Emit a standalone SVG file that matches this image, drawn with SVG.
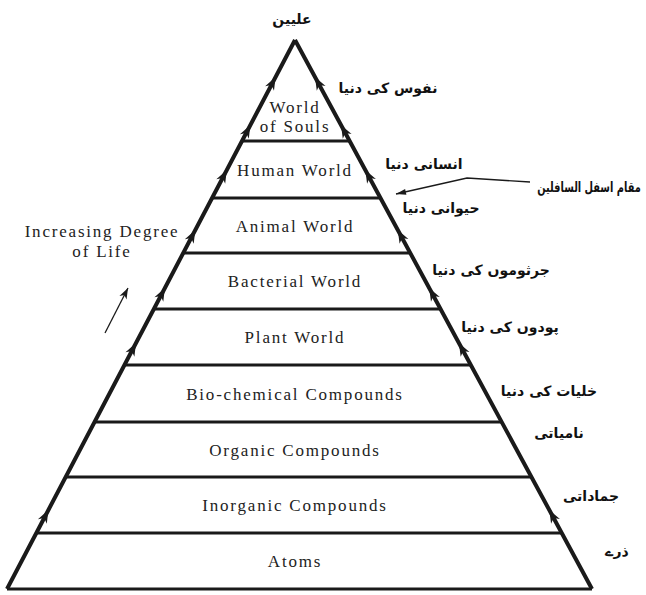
<svg xmlns="http://www.w3.org/2000/svg" width="646" height="595" viewBox="0 0 646 595">
<style>
.edge{fill:none;stroke:#1a1a1a;stroke-width:4;stroke-linejoin:miter;marker-mid:url(#ah)}
.tier{stroke:#1a1a1a;stroke-width:3}
.lbl{font-family:"Liberation Serif","Times New Roman",serif;font-size:17px;letter-spacing:1.8px;fill:#222;text-anchor:middle}
.ur{font-family:"DejaVu Sans",sans-serif;font-weight:bold;font-size:14px;fill:#111;text-anchor:middle}
.thin{fill:none;stroke:#1a1a1a;stroke-width:1.3}
</style>
<defs>
<marker id="ah" markerUnits="userSpaceOnUse" markerWidth="16" markerHeight="12" viewBox="-13 -6 14 12" refX="0" refY="0" orient="auto">
<path d="M0,0 L-13,-5 L-9,0 L-13,5 z" fill="#1a1a1a"/>
</marker>
<marker id="sa" markerUnits="userSpaceOnUse" markerWidth="12" markerHeight="10" viewBox="-11 -5 12 10" refX="0" refY="0" orient="auto">
<path d="M0,0 L-11,-4 L-8,0 L-11,4 z" fill="#1a1a1a"/>
</marker>
<marker id="pa" markerUnits="userSpaceOnUse" markerWidth="12" markerHeight="8" viewBox="-11 -4 12 8" refX="0" refY="0" orient="auto">
<path d="M0,0 L-10,-3 L-10,3 z" fill="#1a1a1a"/>
</marker>
</defs>

<g id="tiers">
<line class="tier" x1="242" y1="141" x2="349.6" y2="141"/>
<line class="tier" x1="212.1" y1="198" x2="380.5" y2="198" stroke-width="6"/>
<line class="tier" x1="183.3" y1="253" x2="410.2" y2="253"/>
<line class="tier" x1="153.9" y1="309" x2="440.5" y2="309"/>
<line class="tier" x1="124.5" y1="365" x2="470.8" y2="365"/>
<line class="tier" x1="94.6" y1="422" x2="501.7" y2="422"/>
<line class="tier" x1="65.7" y1="477" x2="531.4" y2="477"/>
<line class="tier" x1="36.4" y1="533" x2="561.7" y2="533"/>
<line class="tier" x1="7" y1="589" x2="592" y2="589" stroke-width="4"/>
</g>

<g id="connectors">
<polyline class="edge" points="7,589 48.4,510 136,343 164.9,288 195.3,230 226.8,170 250.4,125 275.6,77 295,40"/>
<polyline class="edge" points="592,589 549.3,510 458.9,343 429.2,288 397.8,230 365.3,170 341,125 315,77 295,40"/>
<line class="thin" x1="105" y1="333" x2="128" y2="288" marker-end="url(#sa)"/>
<polyline class="thin" stroke-width="1" points="530,182 467,178 396,194" marker-end="url(#pa)"/>
</g>

<g id="n-souls"><text class="lbl" x="295" y="113">World</text><text class="lbl" x="295" y="132">of Souls</text></g>
<g id="n-human"><text class="lbl" x="295" y="175.5">Human World</text></g>
<g id="n-animal"><text class="lbl" x="295" y="231.5">Animal World</text></g>
<g id="n-bacterial"><text class="lbl" x="295" y="287">Bacterial World</text></g>
<g id="n-plant"><text class="lbl" x="295" y="343">Plant World</text></g>
<g id="n-biochem"><text class="lbl" x="295" y="399.5">Bio-chemical Compounds</text></g>
<g id="n-organic"><text class="lbl" x="295" y="455.5">Organic Compounds</text></g>
<g id="n-inorganic"><text class="lbl" x="295" y="511">Inorganic Compounds</text></g>
<g id="n-atoms"><text class="lbl" x="295" y="567">Atoms</text></g>

<g id="n-degree"><text class="lbl" x="102" y="237" letter-spacing="1.6">Increasing Degree</text><text class="lbl" x="102" y="257" letter-spacing="1.6">of Life</text></g>

<g id="urdu">
<text class="ur" x="292" y="24">علیین</text>
<text class="ur" x="388" y="93">نفوس کی دنیا</text>
<text class="ur" x="424" y="169">انسانی دنیا</text>
<text class="ur" x="441" y="213">حیوانی دنیا</text>
<text class="ur" transform="translate(589,192) scale(0.7,1)" x="0" y="0">مقام اسفل السافلین</text>
<text class="ur" x="491" y="275">جرثوموں کی دنیا</text>
<text class="ur" x="510" y="332">پودوں کی دنیا</text>
<text class="ur" x="549" y="396">خلیات کی دنیا</text>
<text class="ur" x="559" y="438">نامیاتی</text>
<text class="ur" x="591" y="501">جماداتی</text>
<text class="ur" x="617" y="556">ذرے</text>
</g>
</svg>
